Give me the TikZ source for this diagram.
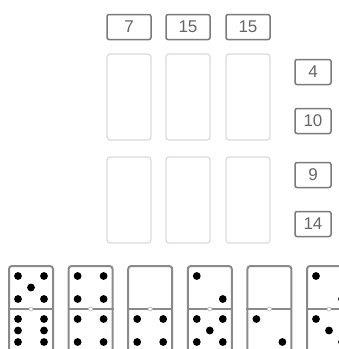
\documentclass[tikz,border=0pt]{standalone}
\usepackage{fontspec}
\setmainfont{Liberation Sans}
\usepackage{xcolor}
\usepackage{tikz}
\usetikzlibrary{positioning}

\definecolor{boxgray}{HTML}{7A7A7A}
\definecolor{numgray}{HTML}{666666}
\definecolor{slotgray}{HTML}{DADADA}
\definecolor{domgray}{HTML}{8A8A8A}
\definecolor{hingegray}{HTML}{C4C4C4}

\begin{document}
\begin{tikzpicture}[x=1pt, y=-1pt]

  \tikzset{
    sumbox/.style={rectangle, rounded corners=2pt,
      draw=boxgray, line width=1.5pt, inner sep=0pt,
      minimum width=#1, minimum height=25pt,
      text=numgray, font=\fontsize{17}{17}\selectfont},
    slot/.style={rectangle, rounded corners=3pt,
      draw=slotgray, line width=1.2pt,
      minimum width=44pt, minimum height=86pt},
    domino/.style={rectangle, rounded corners=3pt,
      draw=domgray, line width=2pt,
      minimum width=44pt, minimum height=86pt},
    pip/.style={fill=black}
  }

  \clip (0,0) rectangle (339,349);

  % column sums
  \node[sumbox=44pt] (col1) at (129,27) {7};
  \node[sumbox=44pt] (col2) at (188,27) {15};
  \node[sumbox=44pt] (col3) at (248,27) {15};

  % row sums
  \node[sumbox=36pt] (row1) at (313,72)  {4};
  \node[sumbox=36pt] (row2) at (313,121) {10};
  \node[sumbox=36pt] (row3) at (313,175) {9};
  \node[sumbox=36pt] (row4) at (313,224) {14};

  % empty slots
  \foreach \c/\x in {1/129, 2/188, 3/248}
    \foreach \r/\y in {1/97, 2/200}
      \node[slot] (slot\r\c) at (\x,\y) {};

  % dominoes
  \foreach \i/\x in {1/31, 2/90.6, 3/150.2, 4/209.8, 5/269.4, 6/329}{
    \node[domino] (dom\i) at (\x,309) {};
    \draw[domgray, line width=2pt] (dom\i.west) -- (dom\i.east);
    \draw[hingegray, line width=0.8pt, fill=white] (dom\i.center) circle (2pt);
  }

  % pips
  \foreach \i/\dx/\dy in {
      1/-13/-33, 1/13/-33, 1/0/-21.5, 1/-13/-10, 1/13/-10,
      1/-13/10, 1/13/10, 1/-13/21.5, 1/13/21.5, 1/-13/33, 1/13/33,
      2/-13/-33, 2/13/-33, 2/-13/-10, 2/13/-10,
      2/-13/10, 2/13/10, 2/-13/33, 2/13/33,
      3/-13/10, 3/13/10, 3/-13/33, 3/13/33,
      4/-13/-33, 4/13/-10,
      4/-13/10, 4/13/10, 4/0/21.5, 4/-13/33, 4/13/33,
      5/-13/10, 5/13/33,
      6/-13/-33, 6/13/-10,
      6/-13/10, 6/0/21.5, 6/13/33}
    \fill[pip] ([shift={(\dx,\dy)}]dom\i.center) circle (3.9pt);

\end{tikzpicture}
\end{document}
